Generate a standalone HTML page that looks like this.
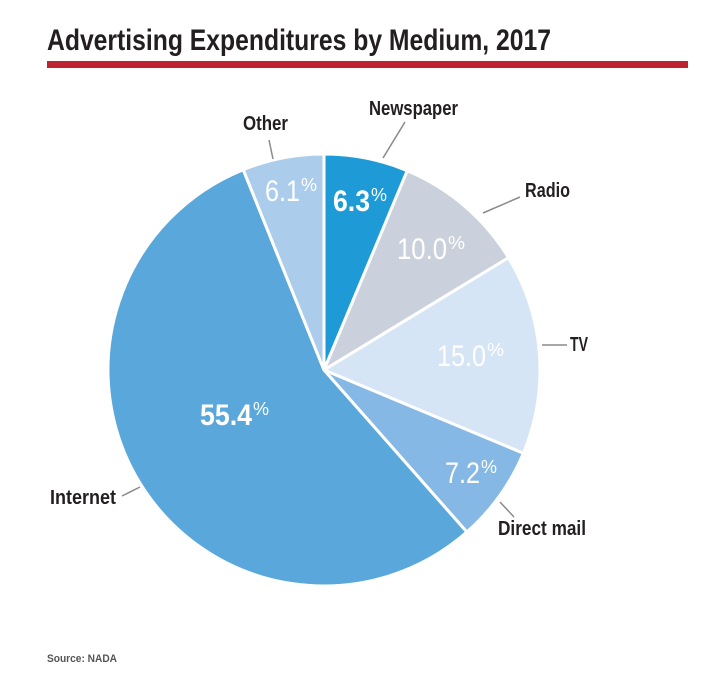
<!DOCTYPE html>
<html><head><meta charset="utf-8"><style>
html,body{margin:0;padding:0;background:#fff;}
svg{display:block;}
text{font-family:"Liberation Sans",sans-serif;}
</style></head><body>
<svg width="716" height="700" viewBox="0 0 716 700" xmlns="http://www.w3.org/2000/svg">
<text x="47" y="50" font-size="30" font-weight="bold" fill="#231f20" textLength="504" lengthAdjust="spacingAndGlyphs">Advertising Expenditures by Medium, 2017</text>
<rect x="47" y="61" width="641" height="7" fill="#be2331"/>
<g id="pie" stroke="#fff" stroke-width="3" stroke-linejoin="round"></g>
<g stroke="#8a8a8a" stroke-width="1.5">
<line x1="269" y1="140" x2="273" y2="159"/>
<line x1="405" y1="122" x2="383" y2="158"/>
<line x1="520" y1="197" x2="483" y2="213"/>
<line x1="542" y1="345" x2="567" y2="345"/>
<line x1="500" y1="502" x2="514" y2="517"/>
<line x1="122" y1="496" x2="140" y2="487"/>
</g>
<g font-size="20" font-weight="bold" fill="#231f20">
<text x="243" y="130" textLength="45" lengthAdjust="spacingAndGlyphs">Other</text>
<text x="369" y="115" textLength="89" lengthAdjust="spacingAndGlyphs">Newspaper</text>
<text x="525" y="197" textLength="45" lengthAdjust="spacingAndGlyphs">Radio</text>
<text x="570" y="351" textLength="18" lengthAdjust="spacingAndGlyphs">TV</text>
<text x="498" y="535" textLength="88" lengthAdjust="spacingAndGlyphs">Direct mail</text>
<text x="50" y="504" textLength="66" lengthAdjust="spacingAndGlyphs">Internet</text>
</g>
<g fill="#fff">
<text x="265" y="201" font-size="30" textLength="35" lengthAdjust="spacingAndGlyphs">6.1</text><text x="301" y="191" font-size="18" textLength="16" lengthAdjust="spacingAndGlyphs">%</text>
<text x="333" y="211" font-size="30" font-weight="bold" textLength="37" lengthAdjust="spacingAndGlyphs">6.3</text><text x="371" y="201" font-size="18" textLength="16" lengthAdjust="spacingAndGlyphs">%</text>
<text x="397" y="259" font-size="30" textLength="50" lengthAdjust="spacingAndGlyphs">10.0</text><text x="448" y="249" font-size="18" textLength="17" lengthAdjust="spacingAndGlyphs">%</text>
<text x="437" y="366" font-size="30" textLength="49" lengthAdjust="spacingAndGlyphs">15.0</text><text x="487" y="356" font-size="18" textLength="17" lengthAdjust="spacingAndGlyphs">%</text>
<text x="200" y="425" font-size="30" font-weight="bold" textLength="52" lengthAdjust="spacingAndGlyphs">55.4</text><text x="253" y="415" font-size="18" textLength="16" lengthAdjust="spacingAndGlyphs">%</text>
<text x="445" y="483" font-size="30" textLength="35" lengthAdjust="spacingAndGlyphs">7.2</text><text x="481" y="473" font-size="18" textLength="16" lengthAdjust="spacingAndGlyphs">%</text>
</g>
<text x="47" y="662" font-size="11" font-weight="bold" fill="#555" textLength="70" lengthAdjust="spacingAndGlyphs">Source: NADA</text>
</svg>
<script>
(function(){
var cx=324,cy=370,r=216;
var d=[[6.3,"#1e9ad6"],[10,"#cbd1dc"],[15,"#d5e5f5"],[7.2,"#85b8e4"],[55.4,"#5aa8db"],[6.1,"#acccec"]];
var g=document.getElementById("pie"),a=0,ns="http://www.w3.org/2000/svg";
d.forEach(function(s){
var a0=a/100*2*Math.PI,a1=(a+s[0])/100*2*Math.PI;a+=s[0];
var x0=cx+r*Math.sin(a0),y0=cy-r*Math.cos(a0),x1=cx+r*Math.sin(a1),y1=cy-r*Math.cos(a1);
var p=document.createElementNS(ns,"path");
p.setAttribute("d","M"+cx+","+cy+"L"+x0+","+y0+"A"+r+","+r+" 0 "+(s[0]>50?1:0)+" 1 "+x1+","+y1+"Z");
p.setAttribute("fill",s[1]);g.appendChild(p);
});
})();
</script>
</body></html>
